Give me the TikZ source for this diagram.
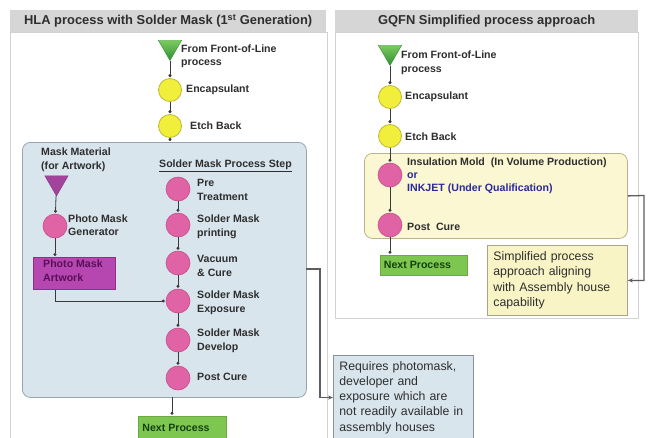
\documentclass[tikz,border=0pt]{standalone}
\usepackage{fontspec}
\setmainfont{Liberation Sans}
\usetikzlibrary{shapes.geometric,arrows.meta}
\definecolor{hdr}{HTML}{D6D6D6}
\definecolor{pnl}{HTML}{D2D2D2}
\definecolor{txt}{HTML}{2E2E2E}
\definecolor{pinkF}{HTML}{E064A5}
\definecolor{pinkD}{HTML}{C44E8A}
\definecolor{yelF}{HTML}{F2EE3C}
\definecolor{yelD}{HTML}{BDB832}
\definecolor{grnT}{HTML}{7CCB5E}
\definecolor{grnB}{HTML}{2F8F35}
\definecolor{magT}{HTML}{A3449C}
\definecolor{artF}{HTML}{B647B0}
\definecolor{artD}{HTML}{8E3088}
\definecolor{artT}{HTML}{5A0E5A}
\definecolor{nxtF}{HTML}{7DC750}
\definecolor{nxtT}{HTML}{15400F}
\definecolor{bluF}{HTML}{D9E5ED}
\definecolor{bluD}{HTML}{9AA4AC}
\definecolor{ybxF}{HTML}{FBF7D2}
\definecolor{ybxD}{HTML}{B9B48C}
\definecolor{ntRF}{HTML}{F8F4C6}
\definecolor{ntRD}{HTML}{A8A48A}
\definecolor{ntLD}{HTML}{8A9098}
\definecolor{inkB}{HTML}{2A2A9A}
\definecolor{lnC}{HTML}{3A3A3A}
\definecolor{brkC}{HTML}{5E5E5E}
\begin{document}
\begin{tikzpicture}[x=1pt,y=-1pt,
  header/.style={draw=none,fill=hdr,anchor=north west,inner sep=0pt,
    font=\fontsize{12.9}{14}\selectfont\bfseries,text=txt},
  panel/.style={draw=pnl,line width=0.8pt,fill=white,anchor=north west,inner sep=0pt},
  yc/.style={circle,fill=yelF,draw=yelD,line width=0.8pt,minimum size=23,inner sep=0pt},
  pc/.style={circle,fill=pinkF,draw=pinkD,line width=0.6pt,minimum size=24,inner sep=0pt},
  gtri/.style={regular polygon,regular polygon sides=3,shape border rotate=180,
    minimum size=27,inner sep=0pt,top color=grnT,bottom color=grnB,draw=grnB,line width=0.4pt},
  mtri/.style={regular polygon,regular polygon sides=3,shape border rotate=180,
    minimum size=27,inner sep=0pt,fill=magT,draw=magT!80!black,line width=0.4pt},
  lbl/.style={anchor=west,align=left,inner sep=0pt,text=txt,
    font=\fontsize{10.6}{13.5}\selectfont\bfseries},
  nxt/.style={rectangle,fill=nxtF,draw=nxtF!85!black,line width=0.4pt,text=nxtT,
    font=\fontsize{10.6}{13}\selectfont\bfseries,inner sep=0pt},
  note/.style={rectangle,anchor=north west,align=left,text width=128pt,inner xsep=6pt,
    inner ysep=6pt,text=txt,font=\fontsize{12.3}{15.2}\selectfont,line width=0.8pt},
  conn/.style={draw=lnC,line width=0.8pt,-{Circle[length=3pt]},shorten >=1pt},
  brk/.style={draw=brkC,line width=1.3pt,-{Stealth[length=5pt,width=4pt]}}
]
\useasboundingbox (0,0) rectangle (650,437);
\fill[white] (0,0) rectangle (650,437);

% ---------- panels and headers ----------
\node[panel,minimum width=317,minimum height=420] (panL) at (10,32) {};
\node[panel,minimum width=303,minimum height=286] (panR) at (335,32) {};
\node[header,minimum width=316,minimum height=22] (hdrL) at (10,10)
  {HLA process with Solder Mask (1\textsuperscript{st} Generation)};
\node[header,minimum width=303,minimum height=22] (hdrR) at (335,10)
  {GQFN Simplified process approach};

% ---------- left panel ----------
\node[rectangle,rounded corners=8pt,fill=bluF,draw=bluD,line width=0.8pt,anchor=north west,
  minimum width=284,minimum height=255,inner sep=0pt] (blueL) at (22,142) {};

\node[gtri] (tL) at (170,47) {};
\node[lbl] (tLt) at (181,56.5) {From Front-of-Line\\process};
\node[yc] (eL1) at (170,90) {};
\node[lbl] (eL1t) at (186,90) {Encapsulant};
\node[yc] (eL2) at (170,126) {};
\node[lbl] (eL2t) at (190,126) {Etch Back};

\node[lbl,anchor=north west] (mmt) at (41,148) {Mask Material\\(for Artwork)};
\node[mtri] (tM) at (56.5,182.5) {};
\node[pc] (gen) at (55,226) {};
\node[lbl] (gent) at (68,225) {Photo Mask\\Generator};
\node[rectangle,fill=artF,draw=artD,line width=0.6pt,anchor=north west,minimum width=82,
  minimum height=32,inner sep=0pt] (art) at (33,257) {};
\node[lbl,text=artT,anchor=north west] (artt) at (43,260) {Photo Mask\\Artwork};

\node[lbl] (sps) at (159,166) {\underline{Solder Mask Process Step}};
\node[pc] (p1) at (178,189) {};
\node[lbl] (p1t) at (197,190) {Pre\\Treatment};
\node[pc] (p2) at (178,225) {};
\node[lbl] (p2t) at (197,227) {Solder Mask\\printing};
\node[pc] (p3) at (178,263) {};
\node[lbl] (p3t) at (197,266) {Vacuum\\\& Cure};
\node[pc] (p4) at (178,301) {};
\node[lbl] (p4t) at (197,303) {Solder Mask\\Exposure};
\node[pc] (p5) at (178,340) {};
\node[lbl] (p5t) at (197,341) {Solder Mask\\Develop};
\node[pc] (p6) at (178,378) {};
\node[lbl] (p6t) at (197,377) {Post Cure};

\node[nxt,minimum width=88,minimum height=24] (nxtL) at (182,428) {\hspace*{-12pt}Next Process};

\draw[conn] (tL) -- (eL1);
\draw[conn] (eL1) -- (eL2);
\draw[conn] (eL2) -- (eL2 |- blueL.north);
\draw[conn] (tM) -- (gen);
\draw[conn] (gen) -- (gen |- art.north);
\draw[conn] (art.south -| gen) |- (p4);
\draw[conn] (p1) -- (p2);
\draw[conn] (p2) -- (p3);
\draw[conn] (p3) -- (p4);
\draw[conn] (p4) -- (p5);
\draw[conn] (p5) -- (p6);
\coordinate (bL) at (172,397);
\draw[conn] (bL) -- (bL |- nxtL.north);

% left note
\node[note,fill=bluF,draw=ntLD] (noteL) at (333,355)
  {Requires photomask,\\developer and\\exposure which are\\not readily available in\\assembly houses};
\coordinate (bkL1) at (306,269);
\coordinate (bkL2) at (320,269);
\draw[brk] (bkL1) -- (bkL2) |- (noteL.west);

% ---------- right panel ----------
\node[rectangle,rounded corners=8pt,fill=ybxF,draw=ybxD,line width=0.8pt,anchor=north west,
  minimum width=263,minimum height=85,inner sep=0pt] (ybox) at (364,153) {};

\node[gtri] (tR) at (390,52) {};
\node[lbl] (tRt) at (401,63) {From Front-of-Line\\process};
\node[yc] (eR1) at (390,97) {};
\node[lbl] (eR1t) at (405,97) {Encapsulant};
\node[yc] (eR2) at (390,136) {};
\node[lbl] (eR2t) at (405,137) {Etch Back};

\node[pc] (pR1) at (390,175) {};
\node[lbl,font=\fontsize{10.6}{12.8}\selectfont\bfseries] (pR1t) at (407,176)
  {Insulation Mold\ \ (In Volume Production)\\\textcolor{inkB}{or}\\\textcolor{inkB}{INKJET (Under Qualification)}};
\node[pc] (pR2) at (390,225) {};
\node[lbl] (pR2t) at (407,227) {Post\ \ Cure};

\node[nxt,minimum width=87,minimum height=20] (nxtR) at (423.5,265) {\hspace*{-12pt}Next Process};

\draw[conn] (tR) -- (eR1);
\draw[conn] (eR1) -- (eR2);
\draw[conn] (eR2) -- (pR1);
\draw[conn] (pR1) -- (pR2);
\draw[conn] (pR2) -- (pR2 |- nxtR.north);

\node[note,fill=ntRF,draw=ntRD,minimum height=70] (noteR) at (487,245)
  {Simplified process\\approach aligning\\with Assembly house\\capability};
\coordinate (bkR) at (644,195.5);
\draw[brk] (ybox.east) -- (bkR) |- (noteR.east);

\end{tikzpicture}
\end{document}
